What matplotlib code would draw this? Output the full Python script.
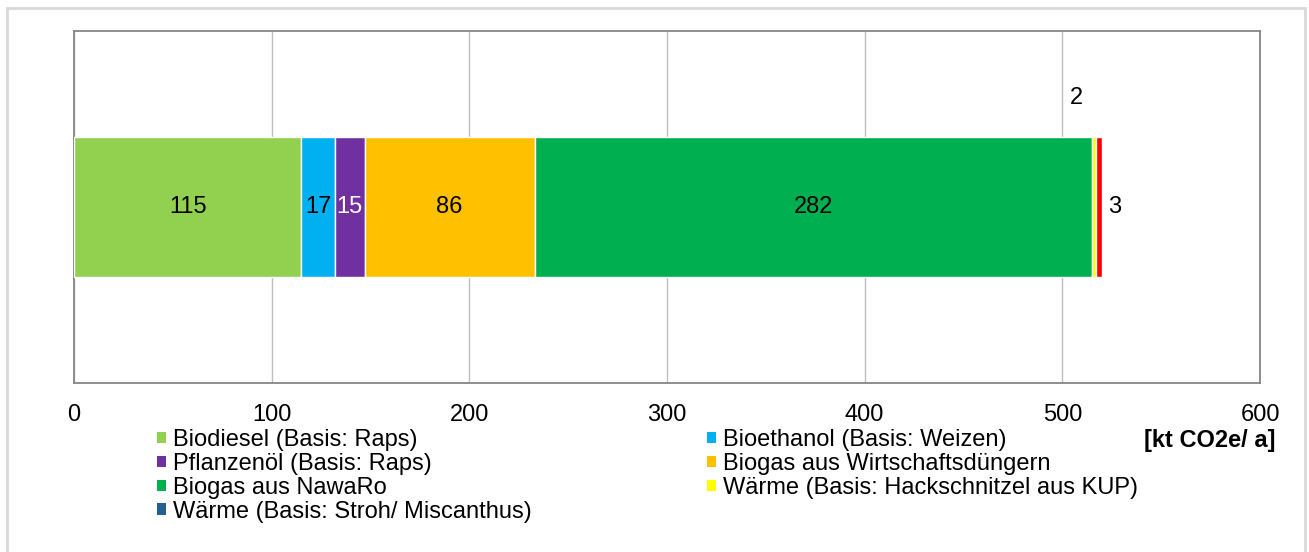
import matplotlib
matplotlib.use("Agg")
import matplotlib.pyplot as plt
from matplotlib.patches import Patch, Rectangle

plt.rcParams['font.family'] = ['Liberation Sans', 'DejaVu Sans']

# Data (kt CO2e / a)
categories = [
    'Biodiesel (Basis: Raps)',
    'Bioethanol (Basis: Weizen)',
    'Pflanzenöl (Basis: Raps)',
    'Biogas aus Wirtschaftsdüngern',
    'Biogas aus NawaRo',
    'Wärme (Basis: Hackschnitzel aus KUP)',
    'Wärme (Basis: Stroh/ Miscanthus)',
]
values = [115, 17, 15, 86, 282, 2, 3]
legend_colors = ['#92D050', '#00B0F0', '#7030A0', '#FFC000', '#00B050', '#FFFF00', '#255E91']
bar_colors = ['#92D050', '#00B0F0', '#7030A0', '#FFC000', '#00B050', '#FFFF00', '#FF0000']
label_colors = ['black', 'black', 'white', 'black', 'black', 'black', 'black']
x_ticks = [0, 100, 200, 300, 400, 500, 600]
unit_label = '[kt CO2e/ a]'

W, H = 1309, 552
fig = plt.figure(figsize=(W / 100, H / 100), dpi=100)
ax = fig.add_axes([74 / W, 1 - 383 / H, (1260 - 74) / W, (383 - 31) / H])

fs = 17
left = 0
for i, (v, c) in enumerate(zip(values, bar_colors)):
    ax.barh(0, v, left=left, height=0.4, color=c, edgecolor='white', linewidth=1, zorder=3)
    if i < 5:
        ax.text(left + v / 2, 0, str(v), ha='center', va='center', fontsize=fs,
                color=label_colors[i], zorder=4)
    elif i == 5:
        ax.annotate(str(v), (left + v / 2, 0.2), xytext=(-18, 39), textcoords='offset pixels',
                    ha='center', va='center', fontsize=fs)
    else:
        ax.annotate(str(v), (left + v, 0), xytext=(6, 0), textcoords='offset pixels',
                    ha='left', va='center', fontsize=fs)
    left += v

ax.set_xlim(0, 600)
ax.set_ylim(-0.5, 0.5)
ax.set_xticks(x_ticks)
ax.set_yticks([])
ax.tick_params(axis='x', length=0, labelsize=fs, pad=15)
ax.grid(axis='x', color='#BFBFBF', linewidth=1, zorder=0)
for s in ax.spines.values():
    s.set_color('#868686')
    s.set_linewidth(1.3)

# legend, row-major order in two columns
order = [0, 2, 4, 6, 1, 3, 5]
handles = [Patch(facecolor=legend_colors[i], edgecolor='none', label=categories[i]) for i in order]
fig.legend(handles=handles, loc='upper left', bbox_to_anchor=(157 / W, 1 - 429 / H),
           ncol=2, frameon=False, fontsize=fs, handlelength=0.38, handleheight=0.38,
           handletextpad=0.3, labelspacing=0.08, columnspacing=7.4, borderpad=0,
           borderaxespad=0)

fig.text(1276 / W, 1 - 441 / H, unit_label, ha='right', va='center', fontsize=fs,
         fontweight='bold')

# outer chart frame
fig.patches.append(Rectangle((7 / W, -0.02), (1305 - 7) / W, 1 - 8 / H + 0.02,
                             transform=fig.transFigure, fill=False,
                             edgecolor='#D9D9D9', linewidth=2))

fig.savefig('out.png', dpi=100)
